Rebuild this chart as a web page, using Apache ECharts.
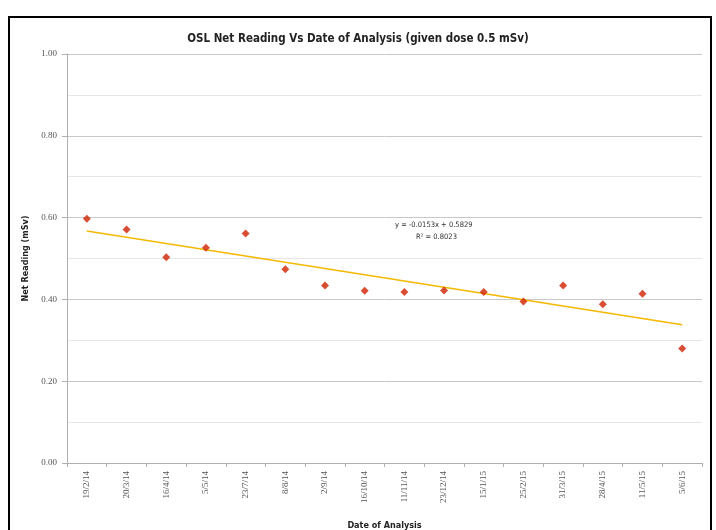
<!DOCTYPE html>
<html><head><meta charset="utf-8">
<script src="https://cdn.jsdelivr.net/npm/echarts@6/dist/echarts.min.js"></script>
<style>html,body{margin:0;padding:0;background:#fff}#c{width:716px;height:530px}</style>
</head><body><div id="c"></div>
<script>
const categories = ['19/2/14','20/3/14','16/4/14','5/5/14','23/7/14','8/8/14','2/9/14','16/10/14','11/11/14','23/12/14','15/1/15','25/2/15','31/3/15','28/4/15','11/5/15','5/6/15'];
const netReading = [0.597,0.571,0.503,0.526,0.561,0.474,0.434,0.421,0.418,0.422,0.418,0.395,0.434,0.388,0.414,0.280];
const trendEnds = [0.567,0.338];
const yTicks = [0,0.2,0.4,0.6,0.8,1.0];
const equationText = ['y = -0.0153x + 0.5829','R\u00b2 = 0.8023'];

const chart = echarts.init(document.getElementById('c'));
chart.setOption({
  animation:false,
  title:{text:'OSL Net Reading Vs Date of Analysis (given dose 0.5 mSv)',left:'center',top:28,
    textStyle:{fontFamily:'DejaVu Sans Condensed',fontWeight:'bold',fontSize:11.5,color:'#222'}},
  grid:{left:67,right:14,top:54,bottom:67,outerBoundsMode:'none',containLabel:false},
  xAxis:{type:'category',data:categories,boundaryGap:true,
    name:'Date of Analysis',nameLocation:'middle',nameGap:58,
    nameTextStyle:{fontFamily:'DejaVu Sans Condensed',fontWeight:'bold',fontSize:9,color:'#222'},
    axisLine:{lineStyle:{color:'#b0b0b0'}},
    axisTick:{show:true,length:4,lineStyle:{color:'#b0b0b0'}},
    axisLabel:{rotate:90,fontSize:9,color:'#555',fontFamily:'Liberation Serif',margin:8}},
  yAxis:{type:'value',min:yTicks[0],max:yTicks[yTicks.length-1],interval:0.2,
    name:'Net Reading (mSv)',nameLocation:'middle',nameGap:34,
    nameTextStyle:{fontFamily:'DejaVu Sans Condensed',fontWeight:'bold',fontSize:9,color:'#222'},
    axisLine:{show:true,lineStyle:{color:'#b0b0b0'}},
    axisTick:{show:true,length:5,lineStyle:{color:'#b0b0b0'}},
    axisLabel:{formatter:v=>v.toFixed(2),fontSize:9,color:'#555',fontFamily:'Liberation Serif',margin:10},
    splitLine:{lineStyle:{color:'#c8c8c8',width:1}},
    minorTick:{show:false,splitNumber:2},
    minorSplitLine:{show:true,lineStyle:{color:'#e6e6e6',width:1}}},
  series:[
    {type:'line',data:[[categories[0],trendEnds[0]],[categories[categories.length-1],trendEnds[1]]],
     symbol:'none',lineStyle:{color:'#F5B800',width:1.5},z:2},
    {type:'scatter',data:netReading,symbol:'diamond',symbolSize:8,
     itemStyle:{color:'#D02000'},z:3}
  ],
  graphic:[
    {type:'rect',shape:{x:9,y:17,width:702,height:530},style:{fill:'none',stroke:'#000',lineWidth:2},silent:true},
    {type:'text',left:395,top:221,style:{text:equationText[0],fontSize:7.5,fill:'#333',fontFamily:'DejaVu Sans Condensed'}},
    {type:'text',left:416,top:233,style:{text:equationText[1],fontSize:7.5,fill:'#333',fontFamily:'DejaVu Sans Condensed'}}
  ]
});
</script></body></html>
